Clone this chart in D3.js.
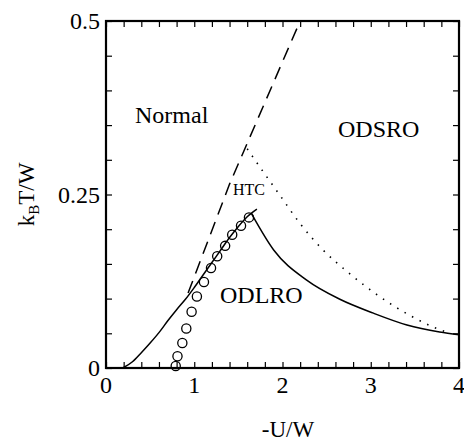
<!DOCTYPE html>
<html><head><meta charset="utf-8">
<script src="https://cdn.jsdelivr.net/npm/d3@7"></script>
<style>
body{margin:0;background:#fff}
svg{display:block}
svg text{font-family:"Liberation Serif","Times New Roman","DejaVu Serif","Noto Serif",serif}
</style>
</head><body>
<script>
// ---- data ----
const xTicks = [0, 1, 2, 3, 4];
const yTicks = [0, 0.25, 0.5];
const yTickLabels = ["0", "0.25", "0.5"];
// solid line: ODLRO boundary (rising branch)
const solidLeftX = [0.19, 0.3, 0.4, 0.5, 0.6, 0.7, 0.8, 0.9, 1.0, 1.1, 1.2, 1.3, 1.4, 1.5, 1.6, 1.71];
const solidLeftY = [0.0, 0.009, 0.022, 0.036, 0.051, 0.068, 0.084, 0.099, 0.116, 0.134, 0.152, 0.170, 0.188, 0.204, 0.218, 0.229];
// solid line: ODLRO boundary (falling branch)
const solidRightX = [1.65, 1.9, 2.27, 2.65, 3.03, 3.41, 3.78, 4.0];
const solidRightY = [0.222, 0.170, 0.127, 0.099, 0.079, 0.062, 0.052, 0.048];
// dotted line: ODSRO boundary
const dottedX = [1.6, 1.78, 1.97, 2.2, 2.46, 2.76, 3.1, 3.44, 3.69, 3.85];
const dottedY = [0.316, 0.283, 0.249, 0.208, 0.170, 0.136, 0.103, 0.076, 0.060, 0.052];
// dashed line: Normal boundary
const dashedX = [0.93, 1.4, 2.2];
const dashedY = [0.108, 0.265, 0.5];
// circles: HTC
const circX = [0.79, 0.81, 0.865, 0.91, 0.97, 1.03, 1.11, 1.19, 1.26, 1.35, 1.43, 1.53, 1.62];
const circY = [0.003, 0.017, 0.036, 0.057, 0.081, 0.103, 0.124, 0.144, 0.161, 0.176, 0.192, 0.205, 0.217];

const W = 464, H = 443;
const m = {l: 106, t: 21, r: 5, b: 75};
const pw = W - m.l - m.r, ph = H - m.t - m.b;

const svg = d3.select("body").append("svg").attr("width", W).attr("height", H);
const g = svg.append("g").attr("transform", `translate(${m.l},${m.t})`);
const x = d3.scaleLinear().domain([0, 4]).range([0, pw]);
const y = d3.scaleLinear().domain([0, 0.5]).range([ph, 0]);

const minorX = d3.range(0, 4.0001, 0.2);
const minorY = d3.range(0, 0.5001, 0.05);
const tl = 6;
function styleAxis(sel) {
  sel.select(".domain").remove();
  sel.selectAll("line").attr("stroke", "#000").attr("stroke-width", 1.2);
  sel.selectAll("text").remove();
}
g.append("g").attr("transform", `translate(0,${ph})`).call(d3.axisBottom(x).tickValues(minorX).tickSize(-tl)).call(styleAxis);
g.append("g").call(d3.axisTop(x).tickValues(minorX).tickSize(-tl)).call(styleAxis);
g.append("g").call(d3.axisLeft(y).tickValues(minorY).tickSize(-tl)).call(styleAxis);
g.append("g").attr("transform", `translate(${pw},0)`).call(d3.axisRight(y).tickValues(minorY).tickSize(-tl)).call(styleAxis);

// frame
g.append("rect").attr("width", pw).attr("height", ph).attr("fill", "none").attr("stroke", "#000").attr("stroke-width", 2.2);

// tick labels
g.selectAll(".xl").data(xTicks).enter().append("text")
  .attr("x", d => x(d)).attr("y", ph + 25).attr("text-anchor", "middle")
  .attr("font-size", 24).text(d => d);
g.selectAll(".yl").data(yTicks).enter().append("text")
  .attr("x", -6).attr("y", d => y(d)).attr("dy", "0.35em").attr("text-anchor", "end")
  .attr("font-size", 24).text((d, i) => yTickLabels[i]);

// axis titles
svg.append("text").attr("x", 288).attr("y", 437).attr("text-anchor", "middle")
  .attr("font-size", 23).text("-U/W");
const yt = svg.append("text").attr("transform", `translate(34,${m.t + ph / 2}) rotate(-90)`)
  .attr("text-anchor", "middle").attr("font-size", 23);
yt.append("tspan").text("k");
yt.append("tspan").attr("font-size", 15).attr("dy", 5).text("B");
yt.append("tspan").attr("dy", -5).text("T/W");

const line = d3.line().x(d => x(d[0])).y(d => y(d[1]));
const zip = (a, b) => a.map((v, i) => [v, b[i]]);

g.append("path").datum(zip(solidLeftX, solidLeftY)).attr("d", line.curve(d3.curveMonotoneX))
  .attr("fill", "none").attr("stroke", "#000").attr("stroke-width", 1.5);
g.append("path").datum(zip(solidRightX, solidRightY)).attr("d", line.curve(d3.curveMonotoneX))
  .attr("fill", "none").attr("stroke", "#000").attr("stroke-width", 1.5);
g.append("path").datum(zip(dottedX, dottedY)).attr("d", line.curve(d3.curveMonotoneX))
  .attr("fill", "none").attr("stroke", "#000").attr("stroke-width", 1.6).attr("stroke-dasharray", "1.5,7");
g.append("path").datum(zip(dashedX, dashedY)).attr("d", line.curve(d3.curveLinear))
  .attr("fill", "none").attr("stroke", "#000").attr("stroke-width", 1.5).attr("stroke-dasharray", "13,8");

g.selectAll(".c").data(zip(circX, circY)).enter().append("circle")
  .attr("cx", d => x(d[0])).attr("cy", d => y(d[1])).attr("r", 4.6)
  .attr("fill", "none").attr("stroke", "#000").attr("stroke-width", 1.3);

// region labels
const lab = (t, px, py, fs) => svg.append("text").attr("x", px).attr("y", py)
  .attr("font-size", fs).text(t);
lab("Normal", 135, 123, 24);
lab("ODSRO", 338, 137, 24);
lab("ODLRO", 220, 303, 24);
lab("HTC", 233, 195, 16);
</script>
</body></html>
